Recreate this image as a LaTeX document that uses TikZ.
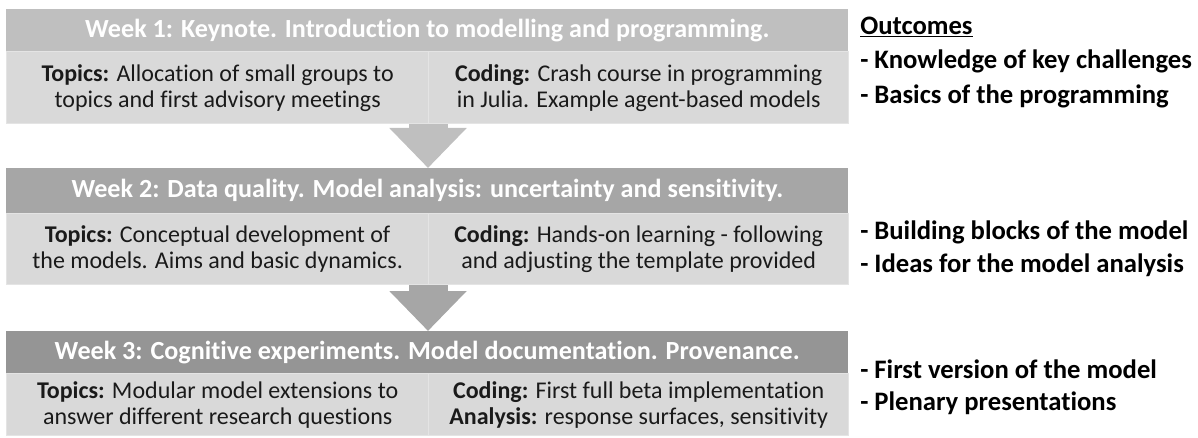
\documentclass[tikz,border=0pt]{standalone}
\usepackage{fontspec}
\setmainfont{Carlito}[Ligatures=NoCommon]
\usetikzlibrary{arrows.meta,positioning}

\definecolor{hdrgrayA}{HTML}{BFBFBF}
\definecolor{hdrgrayB}{HTML}{A6A6A6}
\definecolor{hdrgrayC}{HTML}{959595}
\definecolor{cellgray}{HTML}{D9D9D9}
\definecolor{celledge}{HTML}{E4E4E4}
\definecolor{txtgray}{HTML}{1A1A1A}

\tikzset{
  hdr/.style={rectangle, anchor=north west, inner sep=0pt, minimum width=631.5pt,
    text=white, font=\fontsize{19.6}{22}\selectfont\bfseries},
  cell/.style={rectangle, anchor=north west, inner sep=0pt, fill=cellgray, draw=celledge,
    line width=1pt, align=center, text=txtgray, font=\fontsize{18}{19.5}\selectfont},
  outc/.style={anchor=west, inner sep=0pt, font=\fontsize{20}{22}\selectfont\bfseries},
  flow/.style={line width=29.25pt, -{Triangle[width=56.25pt, length=30pt]}},
}

\begin{document}
\begin{tikzpicture}[x=0.75pt, y=-0.75pt]
    \useasboundingbox (0,0) rectangle (1198,438);

    % week 1
    \node[hdr, fill=hdrgrayA, minimum height=31.5pt] (hdrA) at (6,9)
        {Week 1: Keynote. Introduction to modelling and programming.};
    \node[cell, minimum width=316.5pt, minimum height=54pt] (topA) at (6,51)
        {\textbf{Topics:} Allocation of small groups to\\topics and first advisory meetings};
    \node[cell, minimum width=315pt, minimum height=54pt] (codA) at (428,51)
        {\textbf{Coding:} Crash course in programming\\in Julia. Example agent-based models};

    % week 2
    \node[hdr, fill=hdrgrayB, minimum height=33.75pt] (hdrB) at (6,168)
        {Week 2: Data quality. Model analysis: uncertainty and sensitivity.};
    \node[cell, minimum width=316.5pt, minimum height=53.25pt] (topB) at (6,213)
        {\textbf{Topics:} Conceptual development of\\the models. Aims and basic dynamics.};
    \node[cell, minimum width=315pt, minimum height=53.25pt] (codB) at (428,213)
        {\textbf{Coding:} Hands-on learning - following\\and adjusting the template provided};

    % week 3
    \node[hdr, fill=hdrgrayC, minimum height=31.5pt] (hdrC) at (6,331)
        {Week 3: Cognitive experiments. Model documentation. Provenance.};
    \node[cell, minimum width=316.5pt, minimum height=46.5pt] (topC) at (6,373)
        {\textbf{Topics:} Modular model extensions to\\answer different research questions};
    \node[cell, minimum width=315pt, minimum height=46.5pt] (codC) at (428,373)
        {\textbf{Coding:} First full beta implementation\\\textbf{Analysis:} response surfaces, sensitivity};

    % arrows between the weeks
    \draw[flow, hdrgrayA] (codA.south west) -- (codA.south west |- hdrB.north);
    \draw[flow, hdrgrayB] (codB.south west) -- (codB.south west |- hdrC.north);

    % outcomes
    \node[outc] (outT) at (860,27) {\underline{Outcomes}};
    \node[outc] (outA1) at (860,61) {- Knowledge of key challenges};
    \node[outc] (outA2) at (860,96) {- Basics of the programming};
    \node[outc] (outB1) at (860,232) {- Building blocks of the model};
    \node[outc] (outB2) at (860,265) {- Ideas for the model analysis};
    \node[outc] (outC1) at (860,369) {- First version of the model};
    \node[outc] (outC2) at (860,403) {- Plenary presentations};
\end{tikzpicture}
\end{document}
